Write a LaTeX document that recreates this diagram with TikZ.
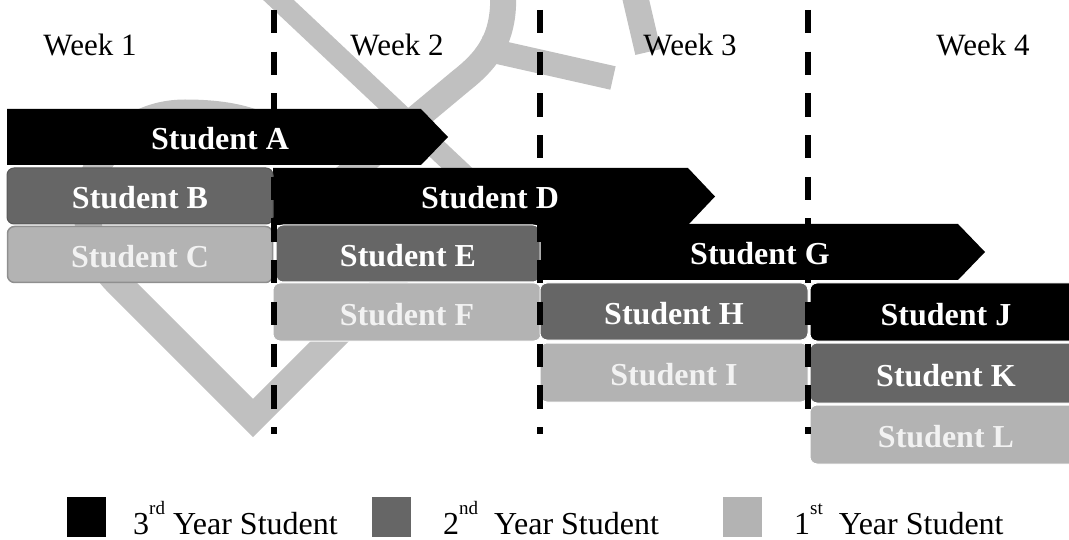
\documentclass[tikz,border=0pt]{standalone}
\usepackage{fontspec}
\setmainfont{Liberation Serif}
\definecolor{dg}{HTML}{666666}
\definecolor{lg}{HTML}{B3B3B3}
\definecolor{wm}{HTML}{C0C0C0}
\definecolor{lgtext}{HTML}{F2F2F2}
\newcommand{\legsup}[1]{\raisebox{0.62em}{\fontsize{19}{20}\selectfont #1}}
\tikzset{
  bar/.style={rounded corners=7pt, inner sep=0pt, draw=white, line width=1pt},
  third/.style={bar, fill=black},
  second/.style={bar, fill=dg},
  first/.style={bar, fill=lg},
  lbl/.style={font=\fontsize{32}{36}\selectfont\bfseries, text=white, inner sep=0pt, anchor=base},
  lbllight/.style={lbl, text=lgtext},
  wmark/.style={draw=wm, line width=24pt},
  weekline/.style={line width=5.5pt, dash pattern=on 23.3pt off 18.4pt},
  weeklbl/.style={font=\fontsize{31}{36}\selectfont, inner sep=0pt, anchor=base},
  legsq/.style={inner sep=0pt, minimum width=39pt, minimum height=40pt},
  legtxt/.style={font=\fontsize{32}{38}\selectfont, inner sep=0pt, anchor=base west},
}
\begin{document}
\begin{tikzpicture}[x=1pt,y=-1pt]
\useasboundingbox (0,0) rectangle (1069,540);
\clip (0,0) rectangle (1069,540);
% background watermark
\draw[wmark, line width=21pt] (270,-8) -- (475,185);
\draw[wmark, line width=26pt] (503,-8) .. controls (505,35) and (490,58) .. (462,80) -- (330,190);
\draw[wmark, line width=24pt] (480,48) -- (613,78);
\draw[wmark, line width=26pt] (634,-8) -- (648,52);
\draw[wmark, line width=27pt] (420,251) -- (253,418) -- (118,283)
  .. controls (55,220) and (95,113) .. (185,113) .. controls (240,113) and (270,125) .. (300,150);
% week labels
\node[weeklbl] (w1) at (90,56) {Week 1};
\node[weeklbl] (w2) at (397,56) {Week 2};
\node[weeklbl] (w3) at (690,56) {Week 3};
\node[weeklbl] (w4) at (983,56) {Week 4};
% arrows (third year, long)
\fill (7,109) -- (421,109) -- (448,137) -- (421,165) -- (7,165) -- cycle;
\coordinate (A) at (220,150);
\fill (273,168) -- (688,168) -- (715,196.5) -- (688,225) -- (273,225) -- cycle;
\coordinate (D) at (490,209);
\fill (540,224) -- (958,224) -- (985,252) -- (958,280) -- (540,280) -- cycle;
\coordinate (G) at (760,265);
% boxes
\node[second, draw=dg!85!black, minimum width=266pt, minimum height=56pt] (B) at (140,196) {};
\node[first, draw=lg!80!black, line width=1.5pt, minimum width=265pt, minimum height=56pt] (C) at (140,254.5) {};
\node[second, minimum width=264pt, minimum height=57pt] (E) at (408,253.5) {};
\node[first, minimum width=268pt, minimum height=58pt] (F) at (407,312) {};
\node[second, minimum width=268pt, minimum height=57pt] (H) at (674,311.5) {};
\node[first, minimum width=268pt, minimum height=59pt] (I) at (674,372.5) {};
\node[third, minimum width=272pt, minimum height=58pt] (J) at (946,312) {};
\node[second, minimum width=272pt, minimum height=60pt] (K) at (946,373) {};
\node[first, minimum width=272pt, minimum height=59pt] (L) at (946,434.5) {};
% week separators
\coordinate (s1t) at (274,10); \coordinate (s1b) at (274,434);
\coordinate (s2t) at (540,10); \coordinate (s2b) at (540,434);
\coordinate (s3t) at (808,10); \coordinate (s3b) at (808,434);
\draw[weekline] (s1t) -- (s1b);
\draw[weekline] (s2t) -- (s2b);
\draw[weekline] (s3t) -- (s3b);
% labels on top
\node[lbl] (Alb) at (A) {Student A};
\node[lbl] (Dlb) at (D) {Student D};
\node[lbl] (Glb) at (G) {Student G};
\node[lbl] (Blb) at ([yshift=-13pt]B.center) {Student B};
\node[lbllight] (Clb) at ([yshift=-13pt]C.center) {Student C};
\node[lbl] (Elb) at ([yshift=-13pt]E.center) {Student E};
\node[lbllight] (Flb) at ([yshift=-13pt]F.center) {Student F};
\node[lbl] (Hlb) at ([yshift=-13pt]H.center) {Student H};
\node[lbllight] (Ilb) at ([yshift=-13pt]I.center) {Student I};
\node[lbl] (Jlb) at ([yshift=-13pt]J.center) {Student J};
\node[lbl] (Klb) at ([yshift=-13pt]K.center) {Student K};
\node[lbllight] (Llb) at ([yshift=-13pt]L.center) {Student L};
% legend
\node[legsq, fill=black] (k3) at (86.5,517) {};
\node[legtxt] (t3) at (133,534) {3\legsup{rd} Year Student};
\node[legsq, fill=dg] (k2) at (391,517) {};
\node[legtxt] (t2) at (443,534) {2\legsup{nd}\ \ Year Student};
\node[legsq, fill=lg] (k1) at (742.5,517) {};
\node[legtxt] (t1) at (794,534) {1\legsup{st}\ \ Year Student};
\end{tikzpicture}
\end{document}
